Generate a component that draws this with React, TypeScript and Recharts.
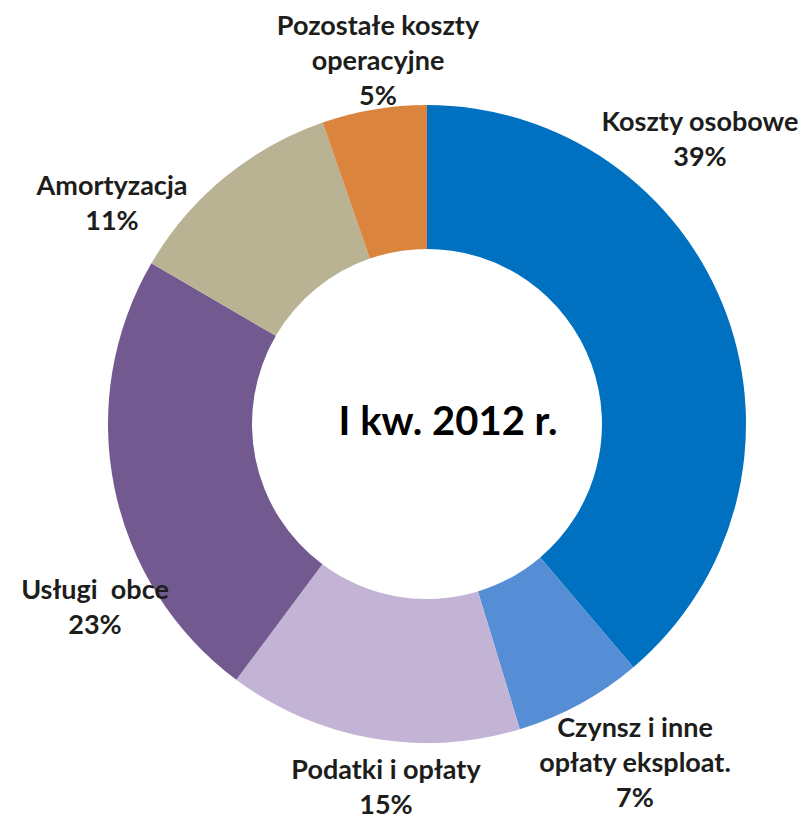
import React from 'react'
import { PieChart, Pie, Cell, Label } from 'recharts'

// cost structure, Q1 2012 (shares; labels show rounded %)
const categories = [
  'Koszty osobowe',
  'Czynsz i inne opłaty eksploat.',
  'Podatki i opłaty',
  'Usługi  obce',
  'Amortyzacja',
  'Pozostałe koszty operacyjne',
]
const shares = [38.8, 6.5, 14.9, 23.2, 11.3, 5.3]
const labelLines = [
  ['Koszty osobowe'],
  ['Czynsz i inne', 'opłaty eksploat.'],
  ['Podatki i opłaty'],
  ['Usługi  obce'],
  ['Amortyzacja'],
  ['Pozostałe koszty', 'operacyjne'],
]
const centerTitle = 'I kw. 2012 r.'

const colors = ['#0070C0', '#558ED5', '#C3B3D5', '#725A91', '#B9B393', '#DA843E']
// label anchor (center x, first baseline y) for each slice
const labelPos = [
  { x: 700, y: 131 },
  { x: 635, y: 737 },
  { x: 386, y: 779 },
  { x: 95, y: 599 },
  { x: 112, y: 195 },
  { x: 378, y: 35 },
]

const data = categories.map((name, i) => ({ name, value: shares[i] }))

const FONT = 'Lato, "Open Sans", sans-serif'
const TEXT = '#1D1D1B'

const renderLabel = (props: any) => {
  const { index, value } = props
  const pos = labelPos[index]
  const lines = [...labelLines[index], `${Math.round(value)}%`]
  return (
    <text
      key={`lbl-${index}`}
      x={pos.x}
      y={pos.y}
      textAnchor="middle"
      fill={TEXT}
      fontFamily={FONT}
      fontWeight={700}
      fontSize={27}
    >
      {lines.map((l, i) => (
        <tspan key={i} x={pos.x} dy={i === 0 ? 0 : 35} style={{ whiteSpace: 'pre' }}>
          {l}
        </tspan>
      ))}
    </text>
  )
}

export default function App() {
  return (
    <div style={{ position: 'absolute', left: 0, top: 0, width: 803, height: 819, background: '#fff' }}>
      <PieChart width={803} height={819} margin={{ top: 0, right: 0, bottom: 0, left: 0 }}>
        <Pie
          data={data}
          dataKey="value"
          nameKey="name"
          cx={427}
          cy={424}
          innerRadius={175}
          outerRadius={319}
          startAngle={90}
          endAngle={-270}
          stroke="none"
          label={renderLabel}
          labelLine={false}
          isAnimationActive={false}
        >
          {data.map((d, i) => (
            <Cell key={`cell-${i}`} fill={colors[i]} />
          ))}
          <Label
            content={() => (
              <text
                x={448}
                y={435}
                textAnchor="middle"
                fill="#000"
                fontFamily={FONT}
                fontWeight={700}
                fontSize={40}
              >
                {centerTitle}
              </text>
            )}
          />
        </Pie>
      </PieChart>
    </div>
  )
}
